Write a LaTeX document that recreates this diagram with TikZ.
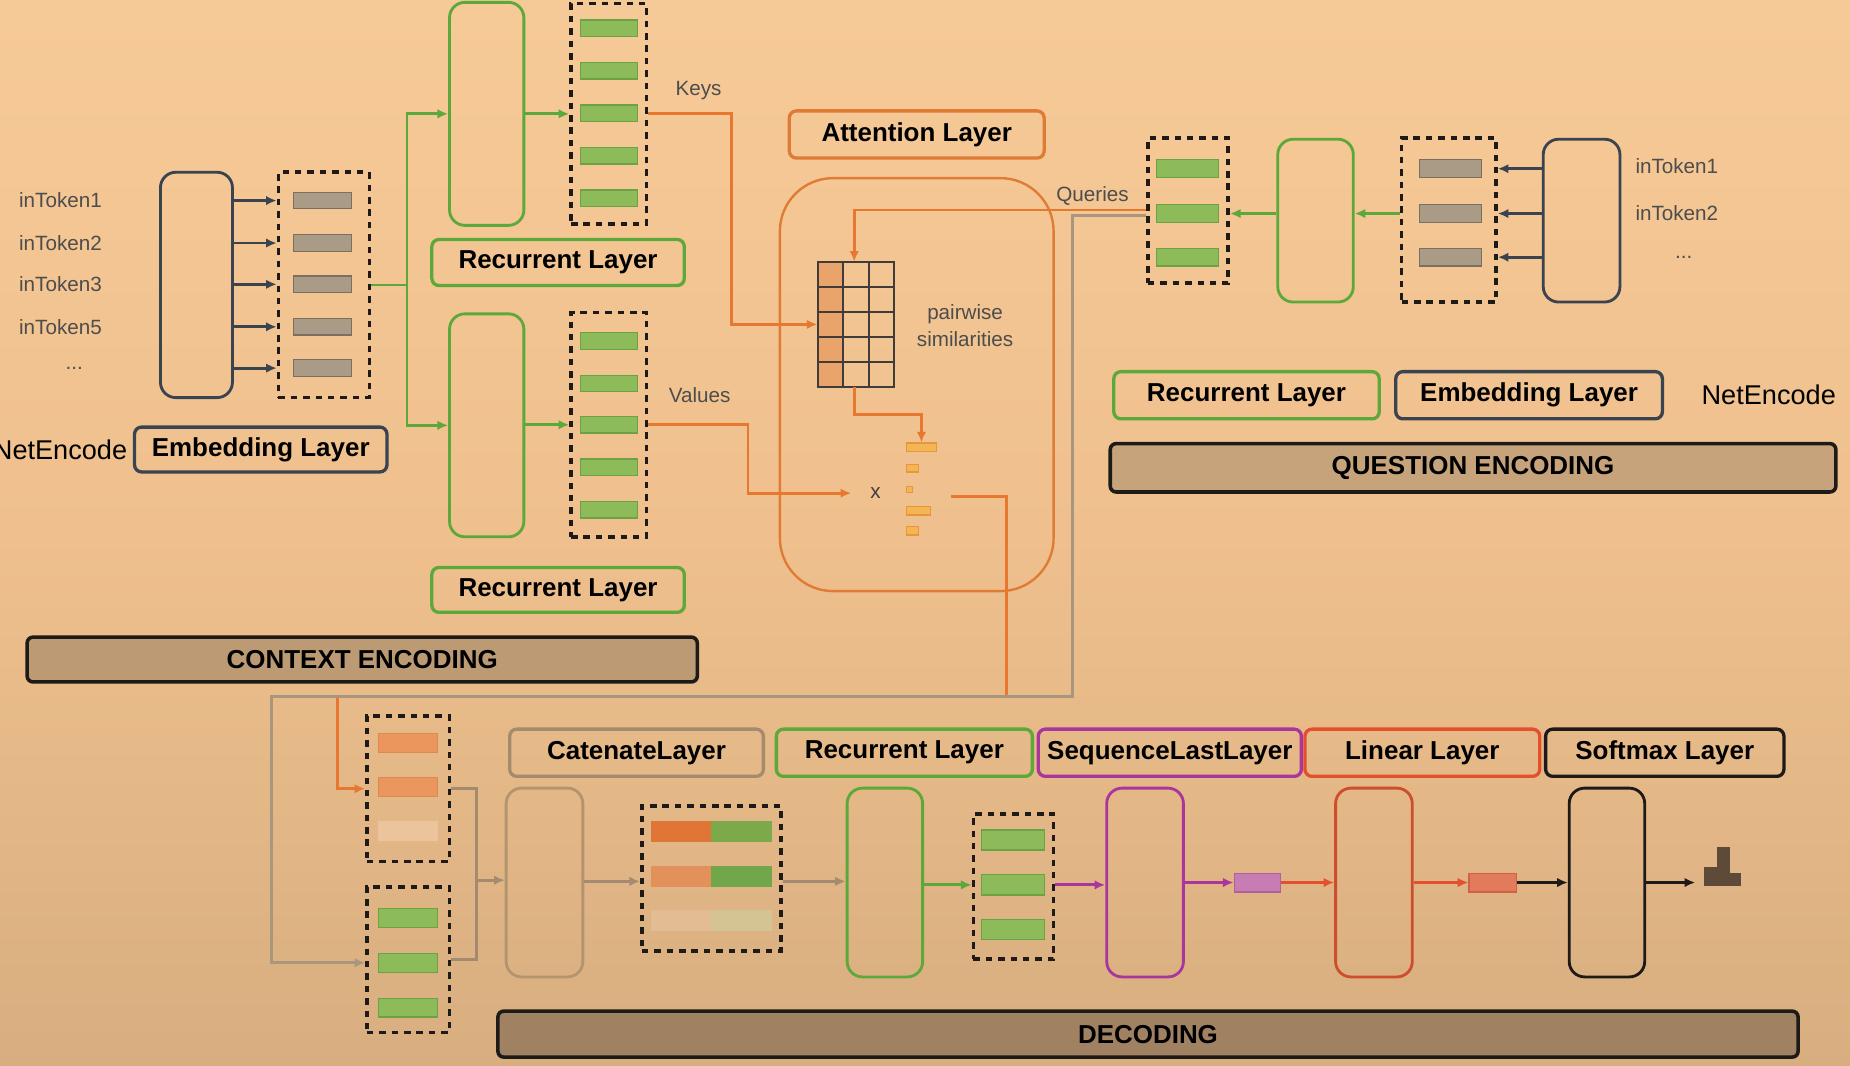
\documentclass[tikz,border=0pt]{standalone}
\usepackage{fontspec}
\setmainfont{Liberation Sans}
\usetikzlibrary{arrows.meta,calc}
\definecolor{bgtop}{HTML}{F6CA97}
\definecolor{bgmid}{HTML}{EFC08D}
\definecolor{bgbot}{HTML}{D8AE80}
\definecolor{cslate}{HTML}{3A4350}
\definecolor{cgreen}{HTML}{5DA83A}
\definecolor{cgbar}{HTML}{8DBB5A}
\definecolor{cgbard}{HTML}{6CA243}
\definecolor{cgraybar}{HTML}{A99B86}
\definecolor{cgraybard}{HTML}{7A6F60}
\definecolor{corange}{HTML}{E8782F}
\definecolor{catt}{HTML}{E07B36}
\definecolor{cwfill}{HTML}{F2B655}
\definecolor{cwdraw}{HTML}{E8953E}
\definecolor{cmat}{HTML}{E9A46C}
\definecolor{ctxt}{HTML}{4D4D4D}
\definecolor{ctan}{HTML}{A48A6E}
\definecolor{ctanbox}{HTML}{B4946F}
\definecolor{cob}{HTML}{EA965C}
\definecolor{cobd}{HTML}{DD8A50}
\definecolor{cobf}{HTML}{EBC49C}
\definecolor{cpur}{HTML}{A8369C}
\definecolor{cpbar}{HTML}{C87CB4}
\definecolor{cpbard}{HTML}{B0609F}
\definecolor{cred}{HTML}{E2502E}
\definecolor{credt}{HTML}{CC4E2C}
\definecolor{crbar}{HTML}{E27A5C}
\definecolor{crbard}{HTML}{D06048}
\definecolor{cblk}{HTML}{1E1A17}
\definecolor{cctx}{HTML}{BC9A73}
\definecolor{cqsec}{HTML}{C7A37C}
\definecolor{cdec}{HTML}{A08262}
\definecolor{chist}{HTML}{5E4A38}
\definecolor{cgrayline}{HTML}{A8967E}
\definecolor{cco1}{HTML}{E07636}
\definecolor{ccg1}{HTML}{7CA94A}
\definecolor{cco2}{HTML}{E2915A}
\definecolor{ccg2}{HTML}{72A64A}
\definecolor{cco3}{HTML}{E2BC92}
\definecolor{ccg3}{HTML}{D4C393}
\newcommand\LabFont{\fontsize{22}{26}\selectfont\bfseries}
\newcommand\SmFont{\fontsize{17.5}{23}\selectfont}
\newcommand\NetFont{\fontsize{23}{26}\selectfont}
\begin{document}
\begin{tikzpicture}[x=1pt,y=-1pt,
  lab/.style={draw, rounded corners=6pt, line width=2.8pt, minimum height=39pt, inner sep=0pt, font=\LabFont, text=black},
  tall/.style={draw, rounded corners=13pt, line width=2.4pt, inner sep=0pt},
  dbox/.style={draw=cblk, dash pattern=on 5.5pt off 5pt, line width=3pt, inner sep=0pt},
  bar/.style={draw, line width=1pt, inner sep=0pt},
  sect/.style={draw=cblk, rounded corners=5pt, line width=3pt, inner sep=0pt, font=\LabFont, text=black},
  small/.style={font=\SmFont, text=ctxt, inner sep=0pt},
  tip/.style={-{Latex[length=9pt,width=8pt]}},
  ln/.style={line width=2.4pt},
]
\useasboundingbox (0,0) rectangle (1568,903.5);
\fill[top color=bgtop, bottom color=bgbot, middle color=bgmid] (0,0) rectangle (1568,903.5);

% ================= CONTEXT ENCODING =================
\node[tall, draw=cslate, minimum width=61pt, minimum height=191pt] (cemb) at (166.5,241.5) {};
\node[dbox, minimum width=77pt, minimum height=191pt] (cembd) at (274.5,241.5) {};
\foreach \y [count=\i] in {170,206,241,277,312} {
  \node[bar, fill=cgraybar, draw=cgraybard, minimum width=49pt, minimum height=14pt] (cb\i) at (273.5,\y) {};
  \draw[ln, tip, cslate] (cemb.east |- cb\i) -- (cembd.west |- cb\i);
}
\node[small, anchor=west] (ct1) at (16,170) {inToken1};
\node[small, anchor=west] (ct2) at (16,206) {inToken2};
\node[small, anchor=west] (ct3) at (16,241) {inToken3};
\node[small, anchor=west] (ct4) at (16,277) {inToken5};
\node[small] (ctd) at (63,312) {...};

\node[anchor=east, font=\NetFont, text=black, inner sep=0pt] (cnet) at (108,381) {NetEncode};
\node[lab, draw=cslate, minimum width=214pt, minimum height=38pt] (cemblab) at (221,381) {Embedding Layer};

% recurrent (keys)
\node[tall, draw=cgreen, minimum width=63pt, minimum height=189pt] (crec1) at (412.5,96.5) {};
\node[dbox, minimum width=64pt, minimum height=187pt] (crec1d) at (516,96.5) {};
\foreach \y [count=\i] in {24,60,96,132,168}
  \node[bar, fill=cgbar, draw=cgbard, minimum width=48pt, minimum height=14pt] (kb\i) at (516,\y) {};
\node[lab, draw=cgreen, minimum width=214pt] (creclab1) at (473,222.5) {Recurrent Layer};

% recurrent (values)
\node[tall, draw=cgreen, minimum width=63pt, minimum height=189pt] (crec2) at (412.5,360.5) {};
\node[dbox, minimum width=64pt, minimum height=190pt] (crec2d) at (516,360) {};
\foreach \y [count=\i] in {289,325,360,396,432}
  \node[bar, fill=cgbar, draw=cgbard, minimum width=48pt, minimum height=14pt] (vb\i) at (516,\y) {};
\node[lab, draw=cgreen, minimum width=214pt, minimum height=38pt] (creclab2) at (473,500) {Recurrent Layer};

\coordinate (gj) at (345,241.5);
\draw[ln, cgreen] (cembd.east) -- (gj);
\draw[ln, tip, cgreen] (gj) |- (crec1.west);
\draw[ln, tip, cgreen] (gj) |- (crec2.west);
\draw[ln, tip, cgreen] (crec1.east) -- (crec1d.west);
\draw[ln, tip, cgreen] (crec2.east |- vb3) -- (crec2d.west |- vb3);

\node[small] (keys) at (592,77) {Keys};
\node[small] (vals) at (593,335) {Values};

\node[sect, fill=cctx, minimum width=568pt, minimum height=38pt] (ctx) at (307,559) {CONTEXT ENCODING};

% ================= ATTENTION =================
\node[lab, draw=catt, minimum width=216pt, minimum height=40pt] (attlab) at (777,114) {Attention Layer};
\node[draw=catt, line width=2pt, rounded corners=45pt, minimum width=232pt, minimum height=350pt, inner sep=0pt] (attbox) at (777,326) {};

\node[inner sep=0pt, minimum width=65pt, minimum height=106pt] (mat) at (725.5,275) {};
\fill[cmat] (693,222) rectangle (714.7,328);
\draw[line width=1.6pt, cblk!85] (693,222) rectangle (758,328);
\foreach \x in {714.7,736.3} \draw[line width=1.6pt, cblk!85] (\x,222) -- (\x,328);
\foreach \y in {243.2,264.4,285.6,306.8} \draw[line width=1.4pt, cblk!85] (693,\y) -- (758,\y);

\node[small, align=center] (pw) at (818,276) {pairwise\\similarities};

\node[bar, fill=cwfill, draw=cwdraw, anchor=west, minimum width=25pt, minimum height=7pt] (w1) at (768,379) {};
\node[bar, fill=cwfill, draw=cwdraw, anchor=west, minimum width=10pt, minimum height=6pt] (w2) at (768,397) {};
\node[bar, fill=cwfill, draw=cwdraw, anchor=west, minimum width=5pt, minimum height=5pt] (w3) at (768,415) {};
\node[bar, fill=cwfill, draw=cwdraw, anchor=west, minimum width=20pt, minimum height=7pt] (w4) at (768,433) {};
\node[bar, fill=cwfill, draw=cwdraw, anchor=west, minimum width=10pt, minimum height=7pt] (w5) at (768,450) {};

\node[font=\SmFont, text=ctxt!80!black, inner sep=0pt] (times) at (742,418) {x};

% ================= QUESTION ENCODING =================
\node[dbox, minimum width=68pt, minimum height=123pt] (qd) at (1007,178.5) {};
\foreach \y [count=\i] in {143,181,218}
  \node[bar, fill=cgbar, draw=cgbard, minimum width=53pt, minimum height=15pt] (qb\i) at (1006.5,\y) {};
\node[tall, draw=cgreen, minimum width=64pt, minimum height=138pt] (qrec) at (1115,187) {};
\node[dbox, minimum width=80pt, minimum height=139pt] (qembd) at (1228,186.5) {};
\foreach \y [count=\i] in {143,181,218}
  \node[bar, fill=cgraybar, draw=cgraybard, minimum width=53pt, minimum height=15pt] (qg\i) at (1229.5,\y) {};
\node[tall, draw=cslate, minimum width=65pt, minimum height=138pt] (qemb) at (1340.5,187) {};
\foreach \i in {1,2,3}
  \draw[ln, tip, cslate] (qemb.west |- qg\i) -- (qembd.east |- qg\i);
\draw[ln, tip, cgreen] (qembd.west |- qg2) -- (qrec.east |- qg2);
\draw[ln, tip, cgreen] (qrec.west |- qb2) -- (qd.east |- qb2);

\node[small, anchor=west] (qt1) at (1386,141) {inToken1};
\node[small, anchor=west] (qt2) at (1386,181) {inToken2};
\node[small] (qtd) at (1427,218) {...};

\node[lab, draw=cgreen, minimum width=225pt, minimum height=40pt] (qreclab) at (1056.5,335) {Recurrent Layer};
\node[lab, draw=cslate, minimum width=226pt, minimum height=40pt] (qemblab) at (1296,335) {Embedding Layer};
\node[anchor=west, font=\NetFont, text=black, inner sep=0pt] (qnet) at (1442,335) {NetEncode};
\node[sect, fill=cqsec, minimum width=615pt, minimum height=41pt] (qsec) at (1248.5,396.5) {QUESTION ENCODING};
\node[small] (queries) at (926,166) {Queries};

% ================= DECODING =================
\node[dbox, minimum width=70pt, minimum height=123pt] (dd1) at (346,668.5) {};
\node[bar, fill=cob, draw=cobd, minimum width=50pt, minimum height=16pt] (ob1) at (346,630) {};
\node[bar, fill=cob, draw=cobd, minimum width=50pt, minimum height=16pt] (ob2) at (346,667) {};
\node[bar, fill=cobf, draw=cobf, minimum width=50pt, minimum height=16pt] (ob3) at (346,704) {};
\node[dbox, minimum width=70pt, minimum height=123pt] (dd2) at (346,813.5) {};
\foreach \y [count=\i] in {778,816,854}
  \node[bar, fill=cgbar, draw=cgbard, minimum width=50pt, minimum height=16pt] (db\i) at (346,\y) {};

% attention connectors (orange) and question-to-decoder (gray)
\draw[ln, tip, corange] (crec1d.east) -- (620,96.5) |- (mat.west);
\coordinate (qin) at (724,178);
\draw[ln, tip, corange] (qd.west |- qin) -- (qin) -- (qin |- mat.north);
\draw[ln, tip, corange] (mat.south -| qin) -- ++(0,23) -| (w1.north);
\draw[ln, tip, corange, shorten >=16pt] (crec2d.east) -- (634,360) |- (times.west);
\coordinate (attout) at (806,421);
\draw[ln, tip, corange] (attout) -- (853,421) -- (853,590) -- (286,590) |- (dd1.west);
\draw[ln, tip, cgrayline] (qd.west |- 0,183) -- (909,183) -- (909,590) -- (230,590) |- (dd2.west |- db2);

\node[tall, draw=ctanbox, minimum width=65pt, minimum height=160pt] (cat) at (461.5,748) {};
\coordinate (mj) at (404,746);
\draw[ln, ctan] (dd1.east) -| (mj);
\draw[ln, ctan] (dd2.east) -| (mj);
\draw[ln, tip, ctan] (mj) -- (cat.west |- mj);

\node[dbox, minimum width=118pt, minimum height=123pt] (dcat) at (603,744.5) {};
\node[bar, fill=cco1, draw=cco1, minimum width=51pt, minimum height=17pt] (co1) at (577.5,705) {};
\node[bar, fill=ccg1, draw=ccg1, minimum width=51pt, minimum height=17pt] (cg1) at (628.5,705) {};
\node[bar, fill=cco2, draw=cco2, minimum width=51pt, minimum height=17pt] (co2) at (577.5,743) {};
\node[bar, fill=ccg2, draw=ccg2, minimum width=51pt, minimum height=17pt] (cg2) at (628.5,743) {};
\node[bar, fill=cco3, draw=cco3, minimum width=51pt, minimum height=17pt] (co3) at (577.5,780) {};
\node[bar, fill=ccg3, draw=ccg3, minimum width=51pt, minimum height=17pt] (cg3) at (628.5,780) {};
\coordinate (dl) at (0,747);
\draw[ln, tip, ctan] (cat.east |- dl) -- (dcat.west |- dl);

\node[tall, draw=cgreen, minimum width=64pt, minimum height=160pt] (drec) at (750,748) {};
\draw[ln, tip, ctan] (dcat.east |- dl) -- (drec.west |- dl);
\node[dbox, minimum width=68pt, minimum height=123pt] (dd3) at (859,751.5) {};
\foreach \y [count=\i] in {712,750,788}
  \node[bar, fill=cgbar, draw=cgbard, minimum width=53pt, minimum height=17pt] (gb\i) at (858.5,\y) {};
\draw[ln, tip, cgreen] (drec.east |- gb2) -- (dd3.west |- gb2);

\node[tall, draw=cpur, minimum width=65pt, minimum height=160pt] (seq) at (970.5,748) {};
\draw[ln, tip, cpur] (dd3.east |- gb2) -- (seq.west |- gb2);
\node[bar, fill=cpbar, draw=cpbard, minimum width=39pt, minimum height=16pt] (pbar) at (1065.5,748) {};
\draw[ln, tip, cpur] (seq.east |- pbar) -- (pbar.west);

\node[tall, draw=credt, minimum width=65pt, minimum height=160pt] (lin) at (1164.5,748) {};
\draw[ln, tip, cred] (pbar.east) -- (lin.west |- pbar);
\node[bar, fill=crbar, draw=crbard, minimum width=40pt, minimum height=16pt] (rbar) at (1265,748) {};
\draw[ln, tip, cred] (lin.east |- rbar) -- (rbar.west);

\node[tall, draw=cblk, minimum width=64pt, minimum height=160pt] (soft) at (1362,748) {};
\draw[ln, tip, cblk] (rbar.east) -- (soft.west |- rbar);
\node[inner sep=0pt, minimum width=32pt, minimum height=33pt] (hist) at (1460,734.5) {};
\fill[chist] (1444,735) rectangle (1455.5,751);
\fill[chist] (1455.5,718) rectangle (1466.5,751);
\fill[chist] (1466.5,740) rectangle (1476,751);
\draw[ln, tip, cblk, shorten >=7pt] (soft.east |- rbar) -- (hist.west |- rbar);

\node[lab, draw=ctan, minimum width=215pt, minimum height=40pt] (catlab) at (539.5,638) {CatenateLayer};
\node[lab, draw=cgreen, minimum width=217pt, minimum height=40pt] (dreclab) at (766.5,638) {Recurrent Layer};
\node[lab, draw=cpur, minimum width=223pt, minimum height=40pt] (seqlab) at (991.5,638) {SequenceLastLayer};
\node[lab, draw=cred, minimum width=199pt, minimum height=40pt] (linlab) at (1205.5,638) {Linear Layer};
\node[lab, draw=cblk, minimum width=202pt, minimum height=40pt] (softlab) at (1411,638) {Softmax Layer};

\node[sect, fill=cdec, minimum width=1102pt, minimum height=39pt] (dsec) at (973,876.5) {DECODING};
\end{tikzpicture}
\end{document}
